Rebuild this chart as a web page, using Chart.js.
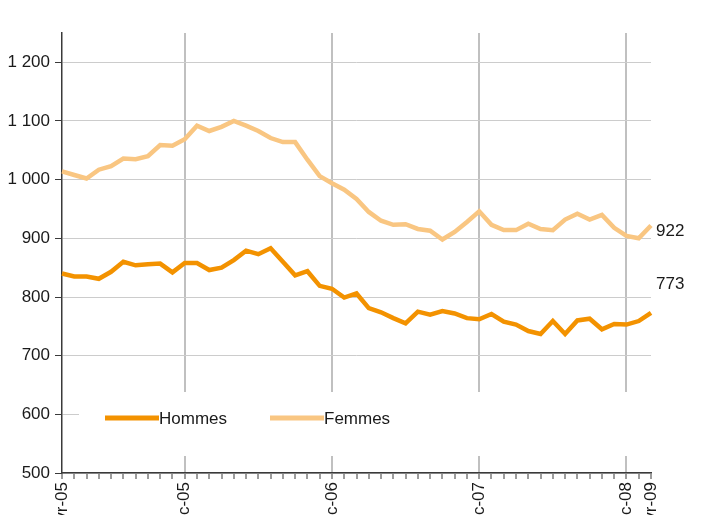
<!DOCTYPE html>
<html>
<head>
<meta charset="utf-8">
<script src="https://cdn.jsdelivr.net/npm/chart.js@4/dist/chart.umd.min.js"></script>
<style>
  html, body { margin: 0; padding: 0; background: #fff; overflow: hidden; }
  #wrap { width: 706px; height: 560px; }
</style>
</head>
<body>
<div id="wrap"><canvas id="canvas" width="706" height="560"></canvas></div>
<script>

// months, févr-05 to févr-09
let months = [
  'févr-05','mars-05','avr-05','mai-05','juin-05','juil-05','août-05','sept-05','oct-05','nov-05','déc-05',
  'janv-06','févr-06','mars-06','avr-06','mai-06','juin-06','juil-06','août-06','sept-06','oct-06','nov-06','déc-06',
  'janv-07','févr-07','mars-07','avr-07','mai-07','juin-07','juil-07','août-07','sept-07','oct-07','nov-07','déc-07',
  'janv-08','févr-08','mars-08','avr-08','mai-08','juin-08','juil-08','août-08','sept-08','oct-08','nov-08','déc-08',
  'janv-09','févr-09'
];

// only these are written under the axis
let shownLabels = ['févr-05','déc-05','déc-06','déc-07','déc-08','févr-09'];
// vertical gridlines
let gridMonths = ['déc-05','déc-06','déc-07','déc-08'];

let hommes = [
  840, 835, 835, 831, 843, 860, 854, 856, 857, 842, 858,
  858, 846, 850, 863, 879, 873, 883, 860, 837, 844, 819, 814,
  799, 806, 781, 774, 764, 755, 775, 770, 776, 772, 764, 762,
  771, 758, 753, 742, 737, 759, 737, 760, 763, 745, 754, 753,
  759, 773
];

let femmes = [
  1014, 1008, 1002, 1017, 1023, 1036, 1035, 1040, 1059, 1058, 1069,
  1092, 1083, 1090, 1100, 1092, 1083, 1071, 1064, 1064, 1034, 1006, 994,
  983, 967, 945, 930, 923, 924, 916, 913, 898, 911, 928, 946,
  923, 914, 914, 925, 916, 914, 932, 942, 932, 940, 918, 904,
  900, 922
];

let seriesNames = ['Hommes', 'Femmes'];
let seriesColors = ['#f39200', '#f9c682'];

let fontFamily = '"Liberation Sans Narrow", "Arial Narrow", "Liberation Sans", Arial, sans-serif';
let textColor = '#1a1a1a';

function frNumber(v) {
  let s = String(v);
  if (v >= 1000) s = s.slice(0, s.length - 3) + ' ' + s.slice(-3);
  return s;
}

// legend box drawn inside the plot, like the original
let insideLegend = {
  id: 'insideLegend',
  afterDraw(chart) {
    let ctx = chart.ctx;
    let a = chart.chartArea;
    ctx.save();
    ctx.fillStyle = '#fff';
    ctx.fillRect(a.left + 17, a.top + 359, a.right - a.left - 17, 64);
    ctx.font = '17px ' + fontFamily;
    ctx.textBaseline = 'middle';
    ctx.lineWidth = 5;
    let xs = [a.left + 43, a.left + 208];
    let y = a.top + 385;
    for (let i = 0; i < seriesNames.length; i++) {
      ctx.strokeStyle = seriesColors[i];
      ctx.beginPath();
      ctx.moveTo(xs[i], y);
      ctx.lineTo(xs[i] + 54, y);
      ctx.stroke();
      ctx.fillStyle = textColor;
      ctx.fillText(seriesNames[i], xs[i] + 54, y + 1);
    }
    ctx.restore();
  }
};

// value of the last month at the right end of each line
let endLabels = {
  id: 'endLabels',
  afterDatasetsDraw(chart) {
    let ctx = chart.ctx;
    let dy = [-29, 6];
    ctx.save();
    ctx.font = '17px ' + fontFamily;
    ctx.fillStyle = textColor;
    ctx.textBaseline = 'middle';
    chart.data.datasets.forEach(function(ds, i) {
      let pts = chart.getDatasetMeta(i).data;
      let p = pts[pts.length - 1];
      ctx.fillText(String(ds.data[ds.data.length - 1]), p.x + 5, p.y + dy[i]);
    });
    ctx.restore();
  }
};

let options = {
  type: 'line',
  data: {
    labels: months,
    datasets: [
      {
        label: seriesNames[0],
        data: hommes,
        borderColor: seriesColors[0],
        borderWidth: 4.5,
        pointRadius: 0,
        tension: 0
      },
      {
        label: seriesNames[1],
        data: femmes,
        borderColor: seriesColors[1],
        borderWidth: 4.5,
        pointRadius: 0,
        tension: 0
      }
    ]
  },
  options: {
    responsive: false,
    animation: false,
    layout: { padding: { left: 0, top: 33, right: 55, bottom: 0 } },
    plugins: {
      legend: { display: false },
      tooltip: { enabled: false }
    },
    scales: {
      x: {
        offset: false,
        afterFit: function(scale) { scale.height = 87; },
        border: { color: '#3a3a3a', width: 1.5 },
        grid: {
          color: function(c) {
            let lab = months[c.index];
            return gridMonths.includes(lab) ? '#c0c0c0' : 'rgba(0,0,0,0)';
          },
          lineWidth: 2,
          tickColor: '#3a3a3a',
          tickWidth: 1,
          tickLength: 6
        },
        ticks: {
          autoSkip: false,
          maxRotation: 90,
          minRotation: 90,
          padding: 3,
          color: textColor,
          font: { family: fontFamily, size: 17 },
          callback: function(v, i) {
            let lab = months[i];
            return shownLabels.includes(lab) ? lab : '';
          }
        }
      },
      y: {
        min: 500,
        max: 1250,
        afterFit: function(scale) { scale.width = 62; },
        afterBuildTicks: function(scale) {
          scale.ticks = scale.ticks.filter(function(t) { return t.value <= 1200; });
        },
        border: { color: '#3a3a3a', width: 1.5 },
        grid: {
          color: '#cccccc',
          lineWidth: 1,
          tickColor: '#3a3a3a',
          tickLength: 7
        },
        ticks: {
          stepSize: 100,
          padding: 5,
          color: textColor,
          font: { family: fontFamily, size: 17 },
          callback: function(v) { return frNumber(v); }
        }
      }
    }
  },
  plugins: [insideLegend, endLabels]
};

let chart = new Chart(document.getElementById('canvas'), options);
</script>
</body>
</html>
